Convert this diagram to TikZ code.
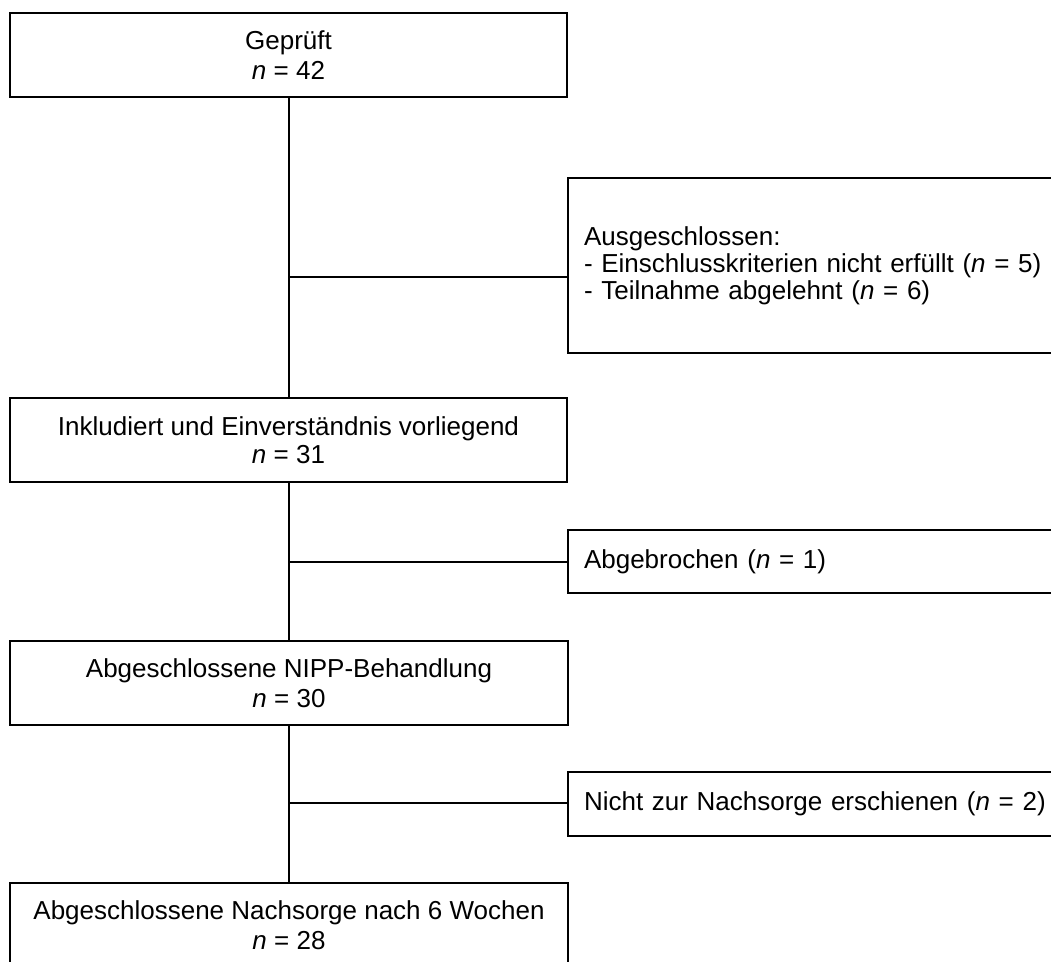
\documentclass[tikz,border=0pt]{standalone}
\usepackage{fontspec}
\setmainfont{Liberation Sans}
\begin{document}
\begin{tikzpicture}[x=1pt,y=-1pt, line width=2pt,
  box/.style={draw, line width=2pt, inner sep=0pt, font=\fontsize{26}{30}\selectfont},
  cbox/.style={box, align=center},
  lbox/.style={box, align=left, anchor=west, inner xsep=16pt, text width=480pt}]
\useasboundingbox (0,0) rectangle (1051,961);
\clip (0,0) rectangle (1051,961);
\node[cbox, minimum width=557pt, minimum height=84pt] (A) at (288.5,55) {Geprüft\\\textit{n} = 42};
\node[lbox, minimum height=175pt, font=\fontsize{26}{27}\selectfont] (B) at (567,265.5) {Ausgeschlossen:\\- Einschlusskriterien nicht erfüllt (\textit{n} = 5)\\- Teilnahme abgelehnt (\textit{n} = 6)};
\node[cbox, minimum width=557pt, minimum height=84pt, font=\fontsize{26}{28}\selectfont] (C) at (288.5,440) {Inkludiert und Einverständnis vorliegend\\\textit{n} = 31};
\node[lbox, minimum height=63pt] (D) at (567,561.5) {Abgebrochen (\textit{n} = 1)};
\node[cbox, minimum width=558pt, minimum height=84pt] (E) at (289,683) {Abgeschlossene NIPP-Behandlung\\\textit{n} = 30};
\node[lbox, minimum height=64pt] (F) at (567,804) {Nicht zur Nachsorge erschienen (\textit{n} = 2)};
\node[cbox, minimum width=558pt, minimum height=84pt] (G) at (289,925) {Abgeschlossene Nachsorge nach 6 Wochen\\\textit{n} = 28};
\coordinate (j1) at (289,277);
\coordinate (j2) at (289,562);
\coordinate (j3) at (289,803);
\draw (A.south -| j1) -- (C.north -| j1);
\draw (C.south -| j1) -- (E.north -| j1);
\draw (E.south -| j1) -- (G.north -| j1);
\draw (j1) -- (j1 -| B.west);
\draw (j2) -- (j2 -| D.west);
\draw (j3) -- (j3 -| F.west);
\end{tikzpicture}
\end{document}
